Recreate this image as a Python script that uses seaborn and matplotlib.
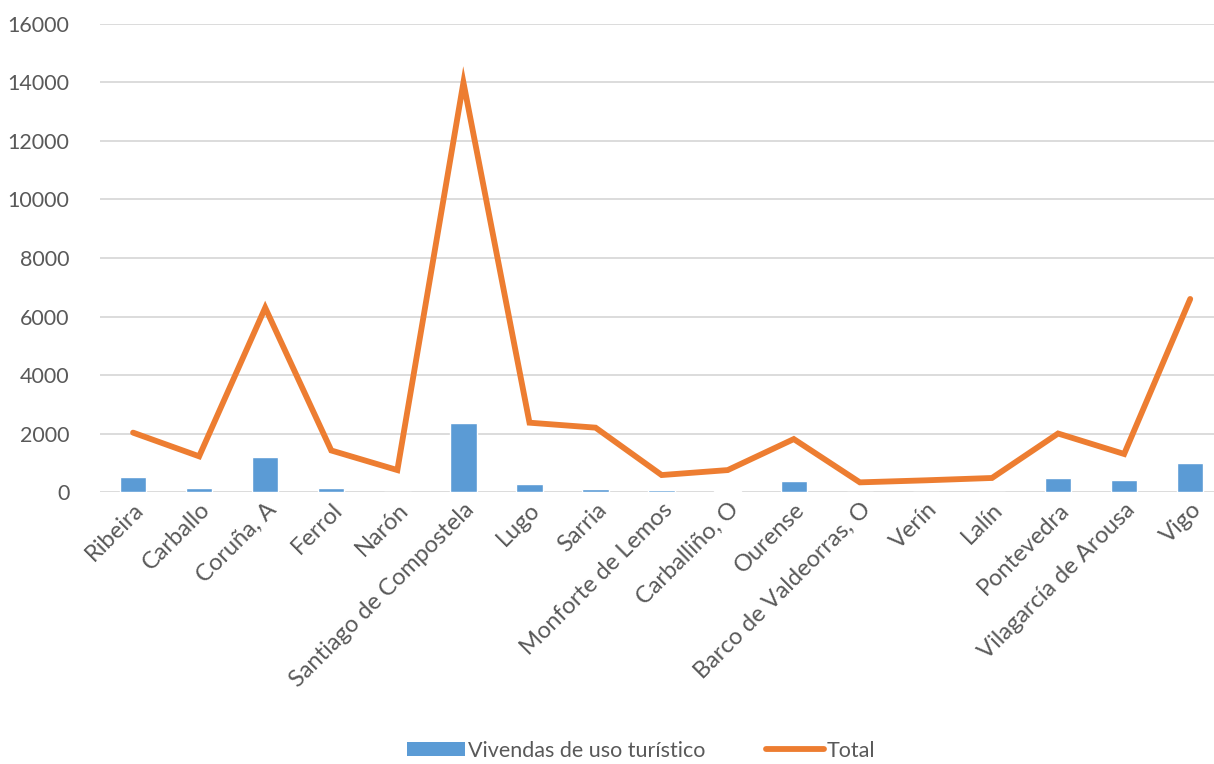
import numpy as np
import pandas as pd
import matplotlib
matplotlib.use("Agg")
import matplotlib.pyplot as plt
import seaborn as sns
from matplotlib.patches import Patch
from matplotlib.lines import Line2D

municipios = [
    "Ribeira", "Carballo", "Coruña, A", "Ferrol", "Narón",
    "Santiago de Compostela", "Lugo", "Sarria", "Monforte de Lemos",
    "Carballiño, O", "Ourense", "Barco de Valdeorras, O", "Verín", "Lalín",
    "Pontevedra", "Vilagarcía de Arousa", "Vigo",
]
vivendas_turisticas = [520, 150, 1180, 130, 0, 2350, 280, 100, 60,
                       30, 360, 0, 0, 0, 470, 400, 1000]
total = [2030, 1220, 6300, 1420, 750, 14000, 2370, 2200, 580,
         750, 1810, 330, 400, 480, 2000, 1300, 6600]
y_ticks = [0, 2000, 4000, 6000, 8000, 10000, 12000, 14000, 16000]

BLUE = "#5B9BD5"
ORANGE = "#ED7D31"
TEXT = "#595959"
GRID = "#D9D9D9"

sns.set_theme(style="white")
plt.rcParams["font.family"] = ["Lato", "DejaVu Sans"]

df = pd.DataFrame({
    "municipio": municipios,
    "vut": vivendas_turisticas,
    "total": total,
    "pos": np.arange(len(municipios)),
})

fig = plt.figure(figsize=(12.14, 7.64), dpi=100)
ax = fig.add_axes([0.0824, 0.356, 0.9176, 0.6126])

sns.barplot(data=df, x="municipio", y="vut", color=BLUE, width=0.4,
            saturation=1, ax=ax, zorder=2)
sns.lineplot(data=df, x="pos", y="total", color=ORANGE, linewidth=4.2,
             ax=ax, zorder=3, sort=False)
for line in ax.lines:
    line.set_solid_joinstyle("miter")

ax.set_xlim(-0.5, 16.36)
ax.set_ylim(0, 16000)
ax.set_yticks(y_ticks)
ax.set_yticklabels([str(v) for v in y_ticks])
ax.set_xticks(df["pos"])
ax.set_xticklabels(municipios, rotation=45, ha="right", rotation_mode="anchor")
ax.set_xlabel("")
ax.set_ylabel("")
ax.yaxis.grid(True, color=GRID, linewidth=1.3, zorder=0)
ax.set_axisbelow(True)
for s in ax.spines.values():
    s.set_visible(False)
ax.tick_params(axis="y", length=0, labelsize=15.5, labelcolor=TEXT, pad=22)
ax.tick_params(axis="x", length=0, labelsize=17, labelcolor=TEXT, pad=5)

handles = [
    Patch(facecolor=BLUE, edgecolor="none", label="Vivendas de uso turístico"),
    Line2D([0], [0], color=ORANGE, linewidth=4.2, label="Total"),
]
fig.legend(handles=handles, loc="lower center", bbox_to_anchor=(0.528, 0.0),
           ncol=2, frameon=False, fontsize=15.5, handlelength=2.7,
           handleheight=0.65, handletextpad=0.15, columnspacing=2.8,
           borderpad=0.15, borderaxespad=0.0, labelcolor=TEXT)

fig.savefig("out.png", dpi=100, facecolor="white")
